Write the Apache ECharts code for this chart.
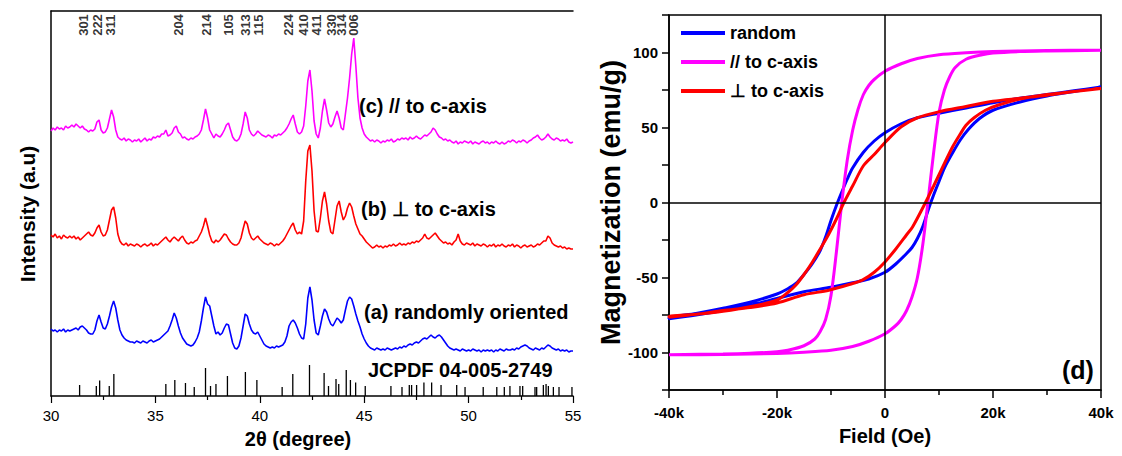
<!DOCTYPE html>
<html><head><meta charset="utf-8">
<script src="https://cdn.jsdelivr.net/npm/echarts@6/dist/echarts.min.js"></script>
<style>html,body{margin:0;padding:0;background:#fff}#c{width:1122px;height:456px}</style>
</head><body><div id="c"></div>
<script>
const FONT = '"Liberation Sans", Arial, Helvetica, sans-serif';

// ---------- XRD (left panel) ----------
const thetaStart = 30, thetaStep = 0.1;   // sampling grid of the traces
const xrdC = [ // (c) // to c-axis (magenta)
265,268,266,269,267,268,266,270,268,269,
271,269,272,270,268,270,267,266,264,266,
265,267,274,276,266,263,264,268,277,286,
279,266,259,257,256,258,255,257,256,254,
256,255,257,254,256,258,255,257,256,259,
258,260,259,262,262,266,260,261,263,268,
270,264,262,258,259,257,256,258,257,259,
260,262,266,276,287,278,266,262,258,262,
260,259,262,266,271,273,266,259,256,255,
257,262,272,284,278,266,262,260,262,265,
263,261,260,259,261,260,258,261,260,262,
261,263,265,268,272,277,281,272,264,262,
264,270,290,315,326,305,275,262,258,268,
285,297,286,273,269,272,279,285,278,268,
266,282,298,318,342,358,330,298,278,268,
262,259,257,255,256,254,256,255,253,255,
254,256,255,257,254,255,257,256,258,257,
258,256,259,257,258,260,258,257,259,261,
260,262,264,268,266,262,259,258,256,257,
255,256,254,253,255,252,254,253,255,254,
253,255,252,254,253,252,254,255,253,254,
252,254,253,255,253,252,254,252,253,255,
254,256,255,253,255,254,256,255,253,255,
256,258,259,261,258,256,257,259,262,259,
257,256,258,257,255,256,255,257,254,253,
254];
const xrdB = [ // (b) ⊥ to c-axis (red)
161,159,162,158,160,157,161,159,158,160,
158,160,157,159,156,158,160,162,164,161,
160,163,168,171,164,160,161,166,176,186,
189,178,162,155,152,151,153,150,152,151,
150,152,151,149,151,152,150,151,153,150,
152,151,153,155,157,159,156,154,157,159,
157,155,158,160,156,153,152,154,153,155,
156,160,164,170,178,170,161,155,153,156,
154,156,159,162,161,157,154,152,151,151,
153,158,167,175,172,163,158,156,158,160,
157,155,153,152,151,153,152,150,152,151,
153,155,158,162,166,170,173,166,162,164,
162,175,215,245,251,225,185,165,164,178,
195,204,192,175,164,162,176,190,195,184,
176,180,188,193,189,180,172,167,162,160,
157,154,152,150,148,149,151,149,150,148,
150,149,151,150,152,150,151,153,151,152,
151,153,152,154,153,155,154,156,158,162,
158,157,159,161,163,160,157,155,153,154,
152,153,151,154,156,162,155,152,151,153,
152,151,153,150,152,151,150,152,151,149,
151,150,152,149,151,150,152,150,149,151,
150,152,149,151,150,148,150,151,149,150,
151,149,150,152,151,153,155,155,160,158,
153,151,150,149,150,148,149,147,148,147,
147];
const xrdA = [ // (a) randomly oriented (blue)
67,65,66,64,66,65,67,64,66,65,
66,67,68,66,69,70,68,66,63,62,
62,66,75,81,74,68,67,72,80,89,
95,88,76,66,61,58,56,55,54,54,
53,55,54,53,55,54,53,55,56,54,
55,56,57,59,61,63,65,70,76,83,
78,70,63,58,55,52,51,50,51,54,
58,64,75,88,99,92,90,80,70,62,
64,61,63,68,72,71,62,53,48,47,
50,58,70,82,80,72,66,63,62,64,
60,56,52,50,49,48,49,48,50,49,
50,51,54,60,70,74,76,73,68,62,
58,57,72,98,109,96,76,63,61,70,
80,87,84,77,72,70,74,78,76,73,
76,86,95,99,97,90,82,75,69,62,
57,53,50,48,47,46,48,47,46,47,
46,48,47,46,47,48,47,49,48,50,
49,51,52,51,53,54,53,55,57,58,
57,59,61,59,58,60,61,59,56,53,
50,48,47,46,47,46,45,47,46,45,
46,45,47,46,45,46,44,46,45,46,
45,46,44,46,45,47,46,45,47,46,
46,47,46,48,47,49,50,51,50,48,
47,46,48,47,46,48,47,49,51,50,
48,47,46,47,45,46,45,46,44,45,
45];
const jcpdfPos = [31.37,32.17,32.33,32.79,33.01,35.50,35.93,36.44,36.86,37.40,
  37.64,37.90,38.45,39.31,39.86,41.07,41.58,42.38,43.08,43.29,
  43.65,43.78,44.14,44.34,44.59,45.05,46.28,46.81,47.16,47.27,
  47.51,47.86,48.23,48.68,49.43,49.83,50.70,51.35,51.71,51.98,
  52.46,52.59,53.18,53.26,53.58,53.71,53.82,54.06,54.33,54.95];
const jcpdfInt = [11,10,15.6,10,22,12,16,13,9,28,
  10,12,20,24,16,9,22,31,23,10,
  17,12,26,16,13.5,10,10,9,11,11,
  11,13.5,13.5,11,11,9,9,9,9,10,
  10,10,9,9,11,12,10,9,9,9];
const hklNames = ['301','222','311','204','214','105','313','115','224','410','411','330','314','006'];
const hklPos = [31.55,32.22,32.86,36.10,37.46,38.52,39.32,39.93,41.37,42.08,42.73,43.41,43.92,44.48];
const xrdNames = ['(c) // to c-axis','(b) \u22a5 to c-axis','(a) randomly oriented','JCPDF 04-005-2749'];

// ---------- M-H loops (right panel) ----------
const randomDownH = [40000,35000,30000,25000,20000,15000,10000,6000,3000,0,-2000,-4000,-6000,-7000,-8000,-9000,-10000,-11000,-12000,-13500,-15000,-16500,-18000,-20000,-25000,-30000,-35000,-40000];
const randomDownM = [77,74.5,72,69.5,66.5,63,59.5,56.5,52.5,46.5,41,33.5,23,15.5,7,-2,-12,-23,-32,-41,-48,-54,-57.5,-61,-66.5,-70.5,-74,-77];
const randomUpH = [-40000,-35000,-30000,-25000,-20000,-15000,-10000,-6000,-3000,0,2000,4000,5000,6000,7000,8000,9000,10000,11000,12500,14000,15500,17500,20000,25000,30000,35000,40000];
const randomUpM = [-77.5,-75,-72,-68.5,-64,-59.5,-56.5,-53.5,-51,-46.5,-41,-34,-30,-24,-16,-5,5,14,23,33,42,49,56,61.5,67,71,74,77];
const paraDownH = [40000,30000,20000,15000,10000,6000,3000,0,-2000,-3000,-4000,-5000,-6000,-7000,-8000,-9000,-10000,-11000,-12000,-13000,-15000,-18000,-20000,-25000,-30000,-40000];
const paraDownM = [101.5,101.3,100.6,99.8,98.5,96,92.5,87.5,82,78,72,62,48,28,0,-33,-62,-78,-86,-91,-95.5,-98.5,-99.5,-100.5,-101,-101.5];
const paraUpH = [-40000,-30000,-20000,-15000,-10000,-6000,-3000,0,2000,3000,4000,5000,6000,7000,8000,9000,10000,11000,12000,13000,15000,18000,20000,25000,30000,40000];
const paraUpM = [-101.5,-101.3,-100.6,-99.8,-98.5,-96,-92.5,-87.5,-82,-78,-72,-63,-50,-28,2,33,60,75,84,90,95.5,98.5,99.6,100.6,101,101.5];
const perpDownH = [40000,35000,30000,25000,20000,15000,10000,6000,3000,0,-2000,-4000,-6000,-7600,-9000,-10400,-12000,-13500,-15000,-16500,-18000,-20000,-25000,-30000,-35000,-40000];
const perpDownM = [76,74,71.5,69.5,67.5,64,60.5,56.5,50.5,40,32,24.5,11,0,-11,-21,-31,-40,-48,-55,-60,-65,-69.5,-72.5,-74.5,-76];
const perpUpH = [-40000,-35000,-30000,-25000,-20000,-15000,-10400,-6000,-4200,-2000,0,2000,4000,5100,7500,9000,11000,12500,14000,15000,16500,18600,21000,25000,30000,35000,40000];
const perpUpM = [-76.5,-74.5,-72,-70,-67,-61.5,-58.5,-54,-51.8,-46.5,-39.6,-31,-21.5,-16.3,0,11,26,37,46,51.5,56.5,61.5,65,69,72,74,76];
const loopNames = ['random','// to c-axis','\u22a5 to c-axis'];

// ---------- build ----------
const toPairs = (ys) => ys.map((y, i) => [+(thetaStart + i * thetaStep).toFixed(2), y]);
const loop = (h1, m1, h2, m2) => h1.map((h, i) => [h, m1[i]]).concat(h2.map((h, i) => [h, m2[i]]));

const axisBlack = { lineStyle: { color: '#000', width: 1.5 } };
const chart = echarts.init(document.getElementById('c'), null, { renderer: 'svg' });
chart.setOption({
  backgroundColor: '#fff',
  animation: false,
  grid: [
    { left: 51, top: 11, width: 522, height: 385 },
    { left: 669, top: 15, width: 432, height: 375, show: true, borderColor: '#000', borderWidth: 1.5, backgroundColor: 'transparent' }
  ],
  xAxis: [
    { gridIndex: 0, type: 'value', min: 30, max: 55, interval: 5,
      axisLine: axisBlack, axisTick: { length: 7, lineStyle: { color: '#000', width: 1.2 } },
      minorTick: { show: true, splitNumber: 2, length: 4, lineStyle: { color: '#000', width: 1.2 } },
      splitLine: { show: false },
      axisLabel: { color: '#000', fontSize: 15, fontFamily: FONT, margin: 12 },
      name: '2\u03b8 (degree)', nameLocation: 'middle', nameGap: 33,
      nameTextStyle: { color: '#000', fontSize: 20, fontWeight: 'bold', fontFamily: FONT, padding: [0, 28, 0, 0] } },
    { gridIndex: 0, type: 'value', min: 30, max: 55, position: 'top',
      axisLine: axisBlack, axisTick: { show: false }, axisLabel: { show: false }, splitLine: { show: false } },
    { gridIndex: 1, type: 'value', min: -40000, max: 40000, interval: 20000,
      axisLine: { onZero: false, lineStyle: { color: '#000', width: 1.5 } },
      axisTick: { length: 8, lineStyle: { color: '#000', width: 1.5 } },
      minorTick: { show: true, splitNumber: 2, length: 5, lineStyle: { color: '#000', width: 1.5 } },
      splitLine: { show: false },
      axisLabel: { color: '#000', fontSize: 15, fontWeight: 'bold', fontFamily: FONT, margin: 15,
        formatter: v => v === 0 ? '0' : (v / 1000) + 'k' },
      name: 'Field (Oe)', nameLocation: 'middle', nameGap: 36,
      nameTextStyle: { color: '#000', fontSize: 20, fontWeight: 'bold', fontFamily: FONT } }
  ],
  yAxis: [
    { gridIndex: 0, type: 'value', min: 0, max: 385,
      axisLine: { show: true, lineStyle: { color: '#000', width: 1.5 } },
      axisTick: { show: false }, axisLabel: { show: false }, splitLine: { show: false } },
    { gridIndex: 1, type: 'value', min: -125, max: 125, interval: 25,
      axisLine: { onZero: false, lineStyle: { color: '#000', width: 1.5 } },
      axisTick: { length: 7, lineStyle: { color: '#000', width: 1.5 } },
      splitLine: { show: false },
      axisLabel: { color: '#000', fontSize: 15, fontWeight: 'bold', fontFamily: FONT, margin: 11,
        formatter: v => (v % 50 === 0 ? String(v) : '') },
      name: 'Magnetization (emu/g)', nameLocation: 'middle', nameGap: 37,
      nameTextStyle: { color: '#000', fontSize: 27, fontWeight: 'bold', fontFamily: FONT } }
  ],
  legend: {
    data: loopNames, orient: 'vertical', left: 681, top: 23, padding: 0,
    itemWidth: 44, itemHeight: 4, itemGap: 9, icon: 'rect',
    textStyle: { color: '#000', fontSize: 18, fontWeight: 'bold', fontFamily: FONT, lineHeight: 20 }
  },
  graphic: [
    { type: 'text', x: 27, y: 214, rotation: Math.PI / 2,
      style: { text: 'Intensity (a.u)', font: 'bold 21px ' + FONT, fill: '#000', align: 'center', verticalAlign: 'middle' } },
    { type: 'text', left: 359, top: 96, style: { text: xrdNames[0], font: 'bold 20px ' + FONT, fill: '#000' } },
    { type: 'text', left: 361, top: 199, style: { text: xrdNames[1], font: 'bold 20px ' + FONT, fill: '#000' } },
    { type: 'text', left: 364, top: 302, style: { text: xrdNames[2], font: 'bold 20px ' + FONT, fill: '#000' } },
    { type: 'text', left: 368, top: 360, style: { text: xrdNames[3], font: 'bold 20px ' + FONT, fill: '#000' } },
    { type: 'text', left: 1062, top: 357, style: { text: '(d)', font: 'bold 25px ' + FONT, fill: '#000' } }
  ],
  series: [
    { type: 'line', xAxisIndex: 0, yAxisIndex: 0, data: toPairs(xrdC), showSymbol: false, symbol: 'none',
      lineStyle: { color: '#ff00ff', width: 1.6 } },
    { type: 'line', xAxisIndex: 0, yAxisIndex: 0, data: toPairs(xrdB), showSymbol: false, symbol: 'none',
      lineStyle: { color: '#ff0000', width: 1.6 } },
    { type: 'line', xAxisIndex: 0, yAxisIndex: 0, data: toPairs(xrdA), showSymbol: false, symbol: 'none',
      lineStyle: { color: '#0000ff', width: 1.6 } },
    { type: 'bar', xAxisIndex: 0, yAxisIndex: 0, barWidth: 1.3,
      data: jcpdfPos.map((p, i) => [p, jcpdfInt[i]]), itemStyle: { color: '#000' } },
    { type: 'scatter', xAxisIndex: 0, yAxisIndex: 0, symbolSize: 0, silent: true,
      data: hklPos.map((p, i) => ({ name: hklNames[i], value: [p, 371] })),
      label: { show: true, position: 'inside', rotate: 90, formatter: p => p.name,
        color: '#000', fontSize: 13, fontWeight: 'bold', fontFamily: FONT } },
    { name: loopNames[0], type: 'line', xAxisIndex: 2, yAxisIndex: 1, smooth: 0.3,
      data: loop(randomDownH, randomDownM, randomUpH, randomUpM), showSymbol: false, symbol: 'none',
      lineStyle: { color: '#0000ff', width: 3 }, itemStyle: { color: '#0000ff' },
      markLine: { silent: true, symbol: ['none', 'none'], label: { show: false },
        lineStyle: { color: '#000', width: 1.5, type: 'solid' },
        data: [{ xAxis: 0 }, { yAxis: 0 }] } },
    { name: loopNames[1], type: 'line', xAxisIndex: 2, yAxisIndex: 1, smooth: 0.3,
      data: loop(paraDownH, paraDownM, paraUpH, paraUpM), showSymbol: false, symbol: 'none',
      lineStyle: { color: '#ff00ff', width: 3 }, itemStyle: { color: '#ff00ff' } },
    { name: loopNames[2], type: 'line', xAxisIndex: 2, yAxisIndex: 1, smooth: 0.3,
      data: loop(perpDownH, perpDownM, perpUpH, perpUpM), showSymbol: false, symbol: 'none',
      lineStyle: { color: '#ff0000', width: 3 }, itemStyle: { color: '#ff0000' } }
  ]
});
</script></body></html>
